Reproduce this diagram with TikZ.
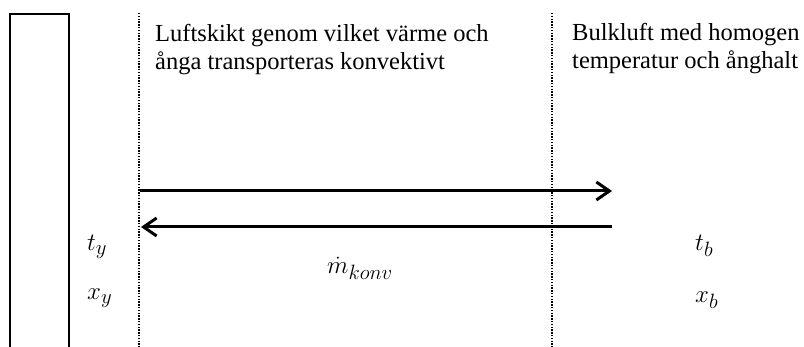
\documentclass[tikz,border=0pt]{standalone}
\usepackage{fontspec}
\setmainfont{Liberation Serif}
\DeclareMathSizes{29}{29}{22}{16}
\usetikzlibrary{arrows.meta}
\begin{document}
\begin{tikzpicture}[x=1pt,y=-1pt,
  wall/.style={line width=1.8pt},
  boundary/.style={line width=1.4pt, dash pattern=on 1.4pt off 1.4pt},
  flow/.style={line width=3pt, -{Straight Barb[length=13pt,width=18pt,line width=3pt]}},
  lbl/.style={anchor=base west, inner sep=0pt, align=left, font=\fontsize{24.5}{28}\selectfont},
  sym/.style={anchor=base west, inner sep=0pt, font=\fontsize{29}{32}\selectfont}]
  \useasboundingbox (0,0) rectangle (804,347);
  \begin{scope}
    \clip (0,0) rectangle (804,347);
    % wall
    \draw[wall] (10,360) -- (10,14) -- (69,14) -- (69,360);
    % boundary layer limits
    \draw[boundary] (139,13) -- (139,360);
    \draw[boundary] (552,13) -- (552,360);
  \end{scope}
  % descriptions
  \node[lbl] (layer) at (155,70) {Luftskikt genom vilket värme och\\ånga transporteras konvektivt};
  \node[lbl] (bulk) at (572,69) {Bulkluft med homogen\\temperatur och ånghalt};
  % transport arrows
  \coordinate (a1) at (140,191);
  \coordinate (b1) at (612,191);
  \coordinate (a2) at (612,227);
  \coordinate (b2) at (141,227);
  \draw[flow] (a1) -- (b1);
  \draw[flow] (a2) -- (b2);
  % state variables
  \node[sym] (ty) at (87,251) {$t_y$};
  \node[sym] (xy) at (87,300) {$x_y$};
  \node[sym] (m) at (327,274) {$\dot m_{konv}$};
  \node[sym] (tb) at (695,251) {$t_b$};
  \node[sym] (xb) at (695,303) {$x_b$};
\end{tikzpicture}
\end{document}
